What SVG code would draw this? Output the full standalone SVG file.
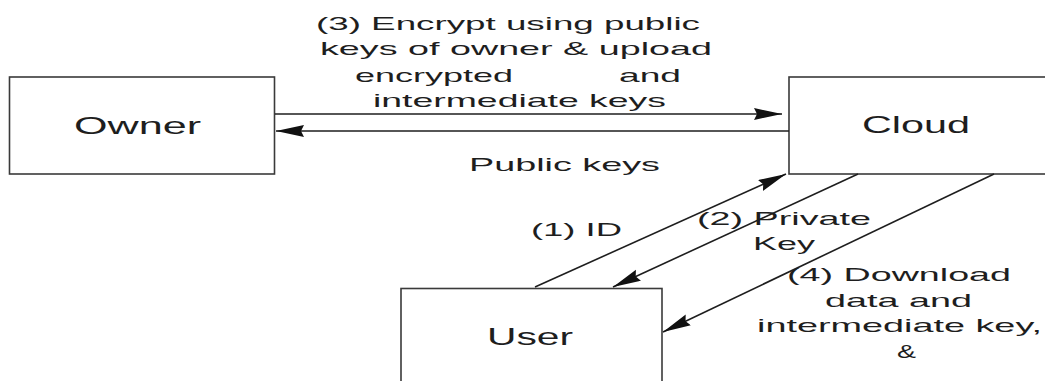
<svg xmlns="http://www.w3.org/2000/svg" width="1045" height="381" viewBox="0 0 1045 381">
<style>
.box{fill:#fff;stroke:#3a3a3a;stroke-width:1.6}
.t{font-family:"Liberation Sans",Arial,sans-serif;fill:#1e1e1e}
.lbl{font-size:19px}
.node{font-size:24px}
.ln{fill:none;stroke:#1e1e1e;stroke-width:1.6}
</style>
<defs>
<marker id="ah" markerUnits="userSpaceOnUse" markerWidth="30" markerHeight="14" refX="28" refY="6" orient="auto">
<path d="M0,0 L28,6 L0,12 L3,6 z" fill="#111"/>
</marker>
</defs>
<rect width="1045" height="381" fill="#fff"/>
<g id="owner">
<rect class="box" x="9.5" y="77" width="265" height="97"/>
<text class="t node" x="74" y="134" font-size="25" textLength="127" lengthAdjust="spacingAndGlyphs">Owner</text>
</g>
<g id="cloud">
<rect class="box" x="789" y="77" width="270" height="97"/>
<text class="t node" x="862" y="133" font-size="23" textLength="108" lengthAdjust="spacingAndGlyphs">Cloud</text>
</g>
<g id="user">
<rect class="box" x="401" y="288.5" width="261" height="100"/>
<text class="t node" x="487" y="345" font-size="22" textLength="86" lengthAdjust="spacingAndGlyphs">User</text>
</g>
<g id="connectors">
<line class="ln" x1="275" y1="114" x2="782" y2="114" stroke-width="2.6" marker-end="url(#ah)"/>
<line class="ln" x1="789" y1="131" x2="276" y2="131" marker-end="url(#ah)"/>
<line class="ln" x1="535" y1="287" x2="786" y2="174" marker-end="url(#ah)"/>
<line class="ln" x1="858" y1="174" x2="613" y2="287" marker-end="url(#ah)"/>
<line class="ln" x1="994" y1="174" x2="663" y2="332" marker-end="url(#ah)"/>
</g>
<g id="labels">
<text class="t lbl" x="316" y="30" textLength="384" lengthAdjust="spacingAndGlyphs">(3) Encrypt using  public</text>
<text class="t lbl" x="320" y="55" textLength="392" lengthAdjust="spacingAndGlyphs">keys  of owner &amp;  upload</text>
<text class="t lbl" x="355" y="82" textLength="158" lengthAdjust="spacingAndGlyphs">encrypted</text>
<text class="t lbl" x="619" y="82" textLength="62" lengthAdjust="spacingAndGlyphs">and</text>
<text class="t lbl" x="373" y="107" textLength="293" lengthAdjust="spacingAndGlyphs">intermediate keys</text>
<text class="t lbl" x="469" y="171" textLength="191" lengthAdjust="spacingAndGlyphs">Public keys</text>
<text class="t lbl" x="531" y="236" font-size="20" textLength="91" lengthAdjust="spacingAndGlyphs">(1) ID</text>
<text class="t lbl" x="697" y="225" textLength="174" lengthAdjust="spacingAndGlyphs">(2) Private</text>
<text class="t lbl" x="753" y="250" textLength="62" lengthAdjust="spacingAndGlyphs">Key</text>
<text class="t lbl" x="787" y="281" textLength="224" lengthAdjust="spacingAndGlyphs">(4) Download</text>
<text class="t lbl" x="825" y="307" textLength="147" lengthAdjust="spacingAndGlyphs">data and</text>
<text class="t lbl" x="757" y="332" textLength="285" lengthAdjust="spacingAndGlyphs">intermediate key,</text>
<text class="t lbl" x="897" y="358" font-size="22" textLength="19" lengthAdjust="spacingAndGlyphs">&amp;</text>
</g>
</svg>
